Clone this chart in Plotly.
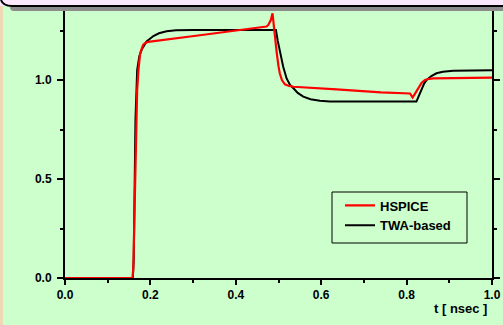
import plotly.graph_objects as go

# Transient waveforms (time in ns, voltage normalised)
t_hspice = [0.0, 0.158, 0.160, 0.163, 0.166, 0.169, 0.172, 0.176, 0.180, 0.183,
            0.188, 0.195, 0.316, 0.472, 0.476, 0.482, 0.486, 0.489, 0.492,
            0.496, 0.500, 0.503, 0.508, 0.515, 0.525, 0.535, 0.636, 0.740,
            0.808, 0.814, 0.818, 0.827, 0.835, 0.843, 0.853, 0.863, 0.900, 1.0]
v_hspice = [0.0, 0.0, 0.05, 0.40, 0.80, 0.95, 1.05, 1.135, 1.160, 1.177,
            1.187, 1.193, 1.226, 1.270, 1.278, 1.303, 1.337, 1.270, 1.200,
            1.135, 1.070, 1.034, 1.000, 0.978, 0.970, 0.966, 0.953, 0.938,
            0.932, 0.912, 0.925, 0.958, 0.985, 1.000, 1.006, 1.008, 1.010, 1.012]

t_twa = [0.0, 0.159, 0.161, 0.163, 0.165, 0.169, 0.174, 0.180, 0.191, 0.207,
         0.220, 0.238, 0.260, 0.300, 0.494, 0.498, 0.503, 0.511, 0.519, 0.527,
         0.535, 0.545, 0.558, 0.575, 0.597, 0.620, 0.823, 0.829, 0.835, 0.841,
         0.847, 0.858, 0.870, 0.885, 0.909, 0.950, 1.0]
v_twa = [0.0, 0.0, 0.10, 0.50, 0.80, 1.05, 1.12, 1.155, 1.195, 1.222,
         1.236, 1.246, 1.251, 1.253, 1.253, 1.200, 1.152, 1.067, 1.008, 0.975,
         0.958, 0.935, 0.916, 0.903, 0.895, 0.891, 0.891, 0.920, 0.958, 0.982,
         1.000, 1.020, 1.034, 1.042, 1.047, 1.049, 1.049]

x_ticks = [0.0, 0.2, 0.4, 0.6, 0.8, 1.0]
y_ticks = [0.0, 0.5, 1.0]

W, H = 503, 325
L, R, B, T = 65, 11, 47, 0
PW, PH = W - L - R, H - B - T


def px(x):
    return (x - L) / PW


def py(y):
    return (H - B - y) / PH


GREEN = "#ccffcc"
FONT = "Liberation Sans, Arial, sans-serif"

fig = go.Figure()
fig.add_trace(go.Scatter(x=t_twa, y=v_twa, mode="lines", name="<b>TWA-based</b>",
                         line=dict(color="black", width=2), legendrank=2))
fig.add_trace(go.Scatter(x=t_hspice, y=v_hspice, mode="lines", name="<b>HSPICE</b>",
                         line=dict(color="#ff0000", width=2.2), legendrank=1))

fig.update_layout(
    width=W, height=H,
    margin=dict(l=L, r=R, t=T, b=B),
    paper_bgcolor=GREEN, plot_bgcolor=GREEN,
    font=dict(family=FONT, size=12, color="black"),
    showlegend=True,
    legend=dict(x=px(340), y=py(190.5), xanchor="left", yanchor="top",
                bgcolor="rgba(0,0,0,0)", borderwidth=0,
                font=dict(size=13), tracegroupgap=0),
    xaxis=dict(range=[0, 1], tickvals=x_ticks,
               ticktext=[f"<b>{v:.1f}</b>" for v in x_ticks],
               showgrid=False, zeroline=False, showline=True, linecolor="black",
               linewidth=2, ticks="outside", ticklen=5, tickwidth=2, tickcolor="black",
               minor=dict(dtick=0.1, tick0=0, ticks="outside", ticklen=3,
                          tickwidth=2, tickcolor="black", showgrid=False)),
    yaxis=dict(range=[0, (H - B) / 198.0], tickvals=y_ticks,
               ticktext=[f"<b>{v:.1f}</b>" for v in y_ticks],
               showgrid=False, zeroline=False, showline=True, linecolor="black",
               linewidth=2, mirror="ticks", ticks="outside", ticklen=6, tickwidth=2,
               tickcolor="black", ticklabelstandoff=3,
               minor=dict(dtick=0.25, tick0=0, ticks="outside", ticklen=3,
                          tickwidth=2, tickcolor="black", showgrid=False)),
)

fig.add_annotation(text="<b>t [ nsec ]</b>", xref="paper", yref="paper",
                   x=px(489), y=py(308.5), xanchor="right", yanchor="middle",
                   showarrow=False, font=dict(size=13))

# Window frame: tan strip on the left, title bar with shadow across the top,
# plus the legend's outline box
shapes = [
    dict(type="rect", x0=px(332), x1=px(467), y0=py(243), y1=py(192),
         line=dict(color="black", width=1), fillcolor="rgba(0,0,0,0)"),
    dict(type="rect", x0=px(0), x1=px(3), y0=py(H), y1=py(0),
         fillcolor="#efd9b4", line=dict(width=0)),
    dict(type="rect", x0=px(0), x1=px(W), y0=py(6), y1=py(-2),
         fillcolor="#fce8fc", line=dict(width=0)),
    dict(type="path",
         path=(f"M {px(10)} {py(7)} L {px(W)} {py(7)} L {px(W)} {py(11)} "
               f"L {px(14)} {py(11)} Q {px(10)} {py(11)} {px(10)} {py(7)} Z"),
         fillcolor="#8c8c8c", line=dict(width=0)),
    dict(type="path",
         path=(f"M {px(1)} {py(0)} Q {px(3)} {py(6)} {px(12)} {py(6)} L {px(W)} {py(6)}"),
         line=dict(color="black", width=2)),
]
for s in shapes:
    s.update(xref="paper", yref="paper", layer="above")
fig.update_layout(shapes=shapes)

fig.write_html("out.html")
